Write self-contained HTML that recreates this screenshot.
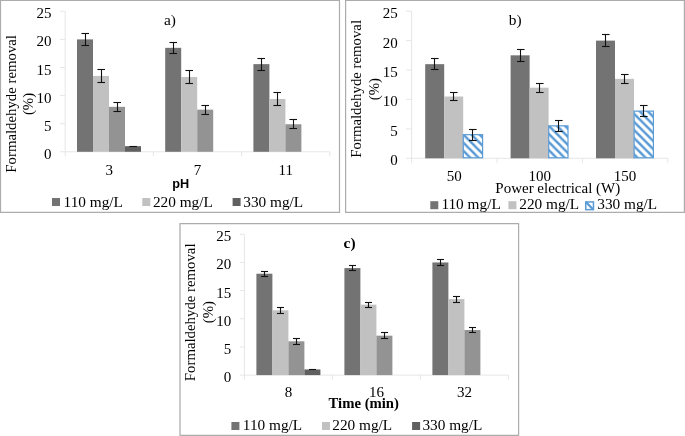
<!DOCTYPE html>
<html><head><meta charset="utf-8"><title>Formaldehyde removal charts</title>
<style>html,body{margin:0;padding:0;background:#fff;}body{width:685px;height:436px;overflow:hidden;font-family:"Liberation Serif",serif;}svg{display:block;will-change:transform;}</style>
</head><body>
<svg width="685" height="436" viewBox="0 0 685 436">
<rect width="685" height="436" fill="#fff"/>
<line x1="0.50" y1="0.50" x2="339.50" y2="0.50" stroke="#acacac" stroke-width="1.2"/>
<line x1="0.50" y1="212.40" x2="339.50" y2="212.40" stroke="#acacac" stroke-width="1.2"/>
<line x1="339.50" y1="-0.10" x2="339.50" y2="213.00" stroke="#acacac" stroke-width="1.2"/>
<line x1="0.50" y1="-0.10" x2="0.50" y2="213.00" stroke="#acacac" stroke-width="1.2"/>
<line x1="65.20" y1="11.30" x2="65.20" y2="156.30" stroke="#e6e6e6" stroke-width="1"/>
<line x1="60.20" y1="151.80" x2="65.20" y2="151.80" stroke="#e6e6e6" stroke-width="1"/>
<text x="51.60" y="158.80" text-anchor="end" font-family="Liberation Serif" font-size="15" font-weight="normal" >0</text>
<line x1="60.20" y1="123.70" x2="65.20" y2="123.70" stroke="#e6e6e6" stroke-width="1"/>
<text x="51.60" y="130.70" text-anchor="end" font-family="Liberation Serif" font-size="15" font-weight="normal" >5</text>
<line x1="60.20" y1="95.60" x2="65.20" y2="95.60" stroke="#e6e6e6" stroke-width="1"/>
<text x="51.60" y="102.60" text-anchor="end" font-family="Liberation Serif" font-size="15" font-weight="normal" >10</text>
<line x1="60.20" y1="67.50" x2="65.20" y2="67.50" stroke="#e6e6e6" stroke-width="1"/>
<text x="51.60" y="74.50" text-anchor="end" font-family="Liberation Serif" font-size="15" font-weight="normal" >15</text>
<line x1="60.20" y1="39.40" x2="65.20" y2="39.40" stroke="#e6e6e6" stroke-width="1"/>
<text x="51.60" y="46.40" text-anchor="end" font-family="Liberation Serif" font-size="15" font-weight="normal" >20</text>
<line x1="60.20" y1="11.30" x2="65.20" y2="11.30" stroke="#e6e6e6" stroke-width="1"/>
<text x="51.60" y="18.30" text-anchor="end" font-family="Liberation Serif" font-size="15" font-weight="normal" >25</text>
<line x1="65.20" y1="151.80" x2="329.80" y2="151.80" stroke="#e6e6e6" stroke-width="1"/>
<line x1="153.40" y1="151.80" x2="153.40" y2="156.30" stroke="#e6e6e6" stroke-width="1"/>
<line x1="241.60" y1="151.80" x2="241.60" y2="156.30" stroke="#e6e6e6" stroke-width="1"/>
<line x1="329.80" y1="151.80" x2="329.80" y2="156.30" stroke="#e6e6e6" stroke-width="1"/>
<rect x="77.00" y="39.40" width="16.00" height="112.40" fill="#737373"/>
<line x1="85.50" y1="33.50" x2="85.50" y2="45.50" stroke="#111" stroke-width="1.1"/>
<line x1="81.40" y1="33.50" x2="89.00" y2="33.50" stroke="#111" stroke-width="1.1"/>
<line x1="81.40" y1="45.50" x2="89.00" y2="45.50" stroke="#111" stroke-width="1.1"/>
<rect x="93.00" y="75.93" width="16.00" height="75.87" fill="#c1c1c1"/>
<line x1="101.50" y1="69.50" x2="101.50" y2="82.50" stroke="#111" stroke-width="1.1"/>
<line x1="97.40" y1="69.50" x2="105.00" y2="69.50" stroke="#111" stroke-width="1.1"/>
<line x1="97.40" y1="82.50" x2="105.00" y2="82.50" stroke="#111" stroke-width="1.1"/>
<rect x="109.00" y="106.84" width="16.00" height="44.96" fill="#939393"/>
<line x1="117.50" y1="102.50" x2="117.50" y2="111.50" stroke="#111" stroke-width="1.1"/>
<line x1="113.40" y1="102.50" x2="121.00" y2="102.50" stroke="#111" stroke-width="1.1"/>
<line x1="113.40" y1="111.50" x2="121.00" y2="111.50" stroke="#111" stroke-width="1.1"/>
<rect x="125.00" y="146.18" width="16.00" height="5.62" fill="#606060"/>
<line x1="129.30" y1="146.50" x2="136.90" y2="146.50" stroke="#111" stroke-width="1.1"/>
<rect x="165.20" y="47.83" width="16.00" height="103.97" fill="#737373"/>
<line x1="173.50" y1="42.50" x2="173.50" y2="53.50" stroke="#111" stroke-width="1.1"/>
<line x1="169.40" y1="42.50" x2="177.00" y2="42.50" stroke="#111" stroke-width="1.1"/>
<line x1="169.40" y1="53.50" x2="177.00" y2="53.50" stroke="#111" stroke-width="1.1"/>
<rect x="181.20" y="77.05" width="16.00" height="74.75" fill="#c1c1c1"/>
<line x1="189.50" y1="70.50" x2="189.50" y2="83.50" stroke="#111" stroke-width="1.1"/>
<line x1="185.40" y1="70.50" x2="193.00" y2="70.50" stroke="#111" stroke-width="1.1"/>
<line x1="185.40" y1="83.50" x2="193.00" y2="83.50" stroke="#111" stroke-width="1.1"/>
<rect x="197.20" y="109.65" width="16.00" height="42.15" fill="#939393"/>
<line x1="205.50" y1="105.50" x2="205.50" y2="114.50" stroke="#111" stroke-width="1.1"/>
<line x1="201.40" y1="105.50" x2="209.00" y2="105.50" stroke="#111" stroke-width="1.1"/>
<line x1="201.40" y1="114.50" x2="209.00" y2="114.50" stroke="#111" stroke-width="1.1"/>
<rect x="253.40" y="64.13" width="16.00" height="87.67" fill="#737373"/>
<line x1="261.50" y1="58.50" x2="261.50" y2="70.50" stroke="#111" stroke-width="1.1"/>
<line x1="257.40" y1="58.50" x2="265.00" y2="58.50" stroke="#111" stroke-width="1.1"/>
<line x1="257.40" y1="70.50" x2="265.00" y2="70.50" stroke="#111" stroke-width="1.1"/>
<rect x="269.40" y="98.97" width="16.00" height="52.83" fill="#c1c1c1"/>
<line x1="277.50" y1="92.50" x2="277.50" y2="105.50" stroke="#111" stroke-width="1.1"/>
<line x1="273.40" y1="92.50" x2="281.00" y2="92.50" stroke="#111" stroke-width="1.1"/>
<line x1="273.40" y1="105.50" x2="281.00" y2="105.50" stroke="#111" stroke-width="1.1"/>
<rect x="285.40" y="124.26" width="16.00" height="27.54" fill="#939393"/>
<line x1="293.50" y1="119.50" x2="293.50" y2="128.50" stroke="#111" stroke-width="1.1"/>
<line x1="289.40" y1="119.50" x2="297.00" y2="119.50" stroke="#111" stroke-width="1.1"/>
<line x1="289.40" y1="128.50" x2="297.00" y2="128.50" stroke="#111" stroke-width="1.1"/>
<text x="109.30" y="174.60" text-anchor="middle" font-family="Liberation Serif" font-size="15" font-weight="normal" >3</text>
<text x="197.50" y="174.60" text-anchor="middle" font-family="Liberation Serif" font-size="15" font-weight="normal" >7</text>
<text x="285.70" y="174.60" text-anchor="middle" font-family="Liberation Serif" font-size="15" font-weight="normal" >11</text>
<text x="180.75" y="188.20" text-anchor="middle" font-family="Liberation Sans" font-size="12.7" font-weight="bold" >pH</text>
<text x="163.90" y="25.10" text-anchor="start" font-family="Liberation Serif" font-size="15.4" font-weight="normal" >a)</text>
<rect x="52.00" y="198.00" width="8.00" height="8.00" fill="#737373"/>
<text x="63.60" y="206.60" text-anchor="start" font-family="Liberation Serif" font-size="15.3" font-weight="normal" >110 mg/L</text>
<rect x="142.30" y="198.00" width="8.00" height="8.00" fill="#c1c1c1"/>
<text x="152.90" y="206.60" text-anchor="start" font-family="Liberation Serif" font-size="15.3" font-weight="normal" >220 mg/L</text>
<rect x="232.60" y="198.00" width="8.00" height="8.00" fill="#606060"/>
<text x="243.30" y="206.60" text-anchor="start" font-family="Liberation Serif" font-size="15.3" font-weight="normal" >330 mg/L</text>
<text transform="translate(15.80,103.85) rotate(-90)" text-anchor="middle" font-family="Liberation Serif" font-size="14.8">Formaldehyde removal</text>
<text transform="translate(33.30,104.00) rotate(-90)" text-anchor="middle" font-family="Liberation Serif" font-size="14.8">(%)</text>
<line x1="345.60" y1="0.50" x2="684.40" y2="0.50" stroke="#acacac" stroke-width="1.2"/>
<line x1="345.60" y1="212.30" x2="684.40" y2="212.30" stroke="#acacac" stroke-width="1.2"/>
<line x1="684.40" y1="-0.10" x2="684.40" y2="212.90" stroke="#acacac" stroke-width="1.2"/>
<line x1="345.60" y1="-0.10" x2="345.60" y2="212.90" stroke="#acacac" stroke-width="1.2"/>
<line x1="411.60" y1="11.20" x2="411.60" y2="162.80" stroke="#e6e6e6" stroke-width="1"/>
<line x1="406.10" y1="158.30" x2="411.60" y2="158.30" stroke="#e6e6e6" stroke-width="1"/>
<text x="397.80" y="165.20" text-anchor="end" font-family="Liberation Serif" font-size="15" font-weight="normal" >0</text>
<line x1="406.10" y1="128.88" x2="411.60" y2="128.88" stroke="#e6e6e6" stroke-width="1"/>
<text x="397.80" y="135.78" text-anchor="end" font-family="Liberation Serif" font-size="15" font-weight="normal" >5</text>
<line x1="406.10" y1="99.46" x2="411.60" y2="99.46" stroke="#e6e6e6" stroke-width="1"/>
<text x="397.80" y="106.36" text-anchor="end" font-family="Liberation Serif" font-size="15" font-weight="normal" >10</text>
<line x1="406.10" y1="70.04" x2="411.60" y2="70.04" stroke="#e6e6e6" stroke-width="1"/>
<text x="397.80" y="76.94" text-anchor="end" font-family="Liberation Serif" font-size="15" font-weight="normal" >15</text>
<line x1="406.10" y1="40.62" x2="411.60" y2="40.62" stroke="#e6e6e6" stroke-width="1"/>
<text x="397.80" y="47.52" text-anchor="end" font-family="Liberation Serif" font-size="15" font-weight="normal" >20</text>
<line x1="406.10" y1="11.20" x2="411.60" y2="11.20" stroke="#e6e6e6" stroke-width="1"/>
<text x="397.80" y="18.10" text-anchor="end" font-family="Liberation Serif" font-size="15" font-weight="normal" >25</text>
<line x1="411.60" y1="158.30" x2="667.80" y2="158.30" stroke="#e6e6e6" stroke-width="1"/>
<line x1="497.00" y1="158.30" x2="497.00" y2="162.80" stroke="#e6e6e6" stroke-width="1"/>
<line x1="582.40" y1="158.30" x2="582.40" y2="162.80" stroke="#e6e6e6" stroke-width="1"/>
<line x1="667.80" y1="158.30" x2="667.80" y2="162.80" stroke="#e6e6e6" stroke-width="1"/>
<rect x="425.20" y="64.16" width="19.00" height="94.14" fill="#737373"/>
<line x1="434.50" y1="58.50" x2="434.50" y2="69.50" stroke="#111" stroke-width="1.1"/>
<line x1="431.00" y1="58.50" x2="438.60" y2="58.50" stroke="#111" stroke-width="1.1"/>
<line x1="431.00" y1="69.50" x2="438.60" y2="69.50" stroke="#111" stroke-width="1.1"/>
<rect x="444.20" y="96.52" width="19.00" height="61.78" fill="#c1c1c1"/>
<line x1="453.50" y1="92.50" x2="453.50" y2="100.50" stroke="#111" stroke-width="1.1"/>
<line x1="450.00" y1="92.50" x2="457.60" y2="92.50" stroke="#111" stroke-width="1.1"/>
<line x1="450.00" y1="100.50" x2="457.60" y2="100.50" stroke="#111" stroke-width="1.1"/>
<defs><pattern id="h0" patternUnits="userSpaceOnUse" x="328.80" y="0.00" width="8.1" height="8.1"><path d="M-2,-2 L10.1,10.1 M-2,6.1 L2,10.1 M6.1,-2 L10.1,2" stroke="#5b9bd5" stroke-width="2.4" fill="none"/></pattern></defs>
<rect x="463.30" y="134.66" width="19.30" height="23.14" fill="url(#h0)" stroke="#5b9bd5" stroke-width="1.2"/>
<line x1="472.50" y1="129.50" x2="472.50" y2="140.50" stroke="#111" stroke-width="1.1"/>
<line x1="469.00" y1="129.50" x2="476.60" y2="129.50" stroke="#111" stroke-width="1.1"/>
<line x1="469.00" y1="140.50" x2="476.60" y2="140.50" stroke="#111" stroke-width="1.1"/>
<rect x="510.60" y="55.33" width="19.00" height="102.97" fill="#737373"/>
<line x1="520.50" y1="49.50" x2="520.50" y2="61.50" stroke="#111" stroke-width="1.1"/>
<line x1="517.00" y1="49.50" x2="524.60" y2="49.50" stroke="#111" stroke-width="1.1"/>
<line x1="517.00" y1="61.50" x2="524.60" y2="61.50" stroke="#111" stroke-width="1.1"/>
<rect x="529.60" y="87.69" width="19.00" height="70.61" fill="#c1c1c1"/>
<line x1="539.50" y1="83.50" x2="539.50" y2="92.50" stroke="#111" stroke-width="1.1"/>
<line x1="536.00" y1="83.50" x2="543.60" y2="83.50" stroke="#111" stroke-width="1.1"/>
<line x1="536.00" y1="92.50" x2="543.60" y2="92.50" stroke="#111" stroke-width="1.1"/>
<defs><pattern id="h1" patternUnits="userSpaceOnUse" x="423.00" y="0.00" width="8.1" height="8.1"><path d="M-2,-2 L10.1,10.1 M-2,6.1 L2,10.1 M6.1,-2 L10.1,2" stroke="#5b9bd5" stroke-width="2.4" fill="none"/></pattern></defs>
<rect x="548.70" y="125.84" width="19.30" height="31.96" fill="url(#h1)" stroke="#5b9bd5" stroke-width="1.2"/>
<line x1="558.50" y1="120.50" x2="558.50" y2="131.50" stroke="#111" stroke-width="1.1"/>
<line x1="555.00" y1="120.50" x2="562.60" y2="120.50" stroke="#111" stroke-width="1.1"/>
<line x1="555.00" y1="131.50" x2="562.60" y2="131.50" stroke="#111" stroke-width="1.1"/>
<rect x="596.00" y="40.62" width="19.00" height="117.68" fill="#737373"/>
<line x1="605.50" y1="34.50" x2="605.50" y2="46.50" stroke="#111" stroke-width="1.1"/>
<line x1="602.00" y1="34.50" x2="609.60" y2="34.50" stroke="#111" stroke-width="1.1"/>
<line x1="602.00" y1="46.50" x2="609.60" y2="46.50" stroke="#111" stroke-width="1.1"/>
<rect x="615.00" y="78.87" width="19.00" height="79.43" fill="#c1c1c1"/>
<line x1="624.50" y1="74.50" x2="624.50" y2="83.50" stroke="#111" stroke-width="1.1"/>
<line x1="621.00" y1="74.50" x2="628.60" y2="74.50" stroke="#111" stroke-width="1.1"/>
<line x1="621.00" y1="83.50" x2="628.60" y2="83.50" stroke="#111" stroke-width="1.1"/>
<defs><pattern id="h2" patternUnits="userSpaceOnUse" x="520.30" y="0.00" width="8.1" height="8.1"><path d="M-2,-2 L10.1,10.1 M-2,6.1 L2,10.1 M6.1,-2 L10.1,2" stroke="#5b9bd5" stroke-width="2.4" fill="none"/></pattern></defs>
<rect x="634.10" y="111.13" width="19.30" height="46.67" fill="url(#h2)" stroke="#5b9bd5" stroke-width="1.2"/>
<line x1="643.50" y1="105.50" x2="643.50" y2="116.50" stroke="#111" stroke-width="1.1"/>
<line x1="640.00" y1="105.50" x2="647.60" y2="105.50" stroke="#111" stroke-width="1.1"/>
<line x1="640.00" y1="116.50" x2="647.60" y2="116.50" stroke="#111" stroke-width="1.1"/>
<text x="454.30" y="180.60" text-anchor="middle" font-family="Liberation Serif" font-size="15" font-weight="normal" >50</text>
<text x="539.70" y="180.60" text-anchor="middle" font-family="Liberation Serif" font-size="15" font-weight="normal" >100</text>
<text x="625.10" y="180.60" text-anchor="middle" font-family="Liberation Serif" font-size="15" font-weight="normal" >150</text>
<text x="495.30" y="192.70" text-anchor="start" font-family="Liberation Serif" font-size="15" font-weight="normal" >Power electrical (W)</text>
<text x="508.80" y="25.30" text-anchor="start" font-family="Liberation Serif" font-size="15.4" font-weight="normal" >b)</text>
<rect x="430.30" y="201.20" width="8.00" height="8.00" fill="#737373"/>
<text x="441.40" y="209.00" text-anchor="start" font-family="Liberation Serif" font-size="15.3" font-weight="normal" >110 mg/L</text>
<rect x="508.40" y="201.20" width="8.00" height="8.00" fill="#c1c1c1"/>
<text x="519.30" y="209.00" text-anchor="start" font-family="Liberation Serif" font-size="15.3" font-weight="normal" >220 mg/L</text>
<rect x="585.75" y="201.95" width="7.7" height="7.7" fill="#fff" stroke="none"/>
<line x1="585.90" y1="202.10" x2="593.30" y2="209.50" stroke="#5b9bd5" stroke-width="2.2"/>
<rect x="585.75" y="201.95" width="7.7" height="7.7" fill="none" stroke="#5b9bd5" stroke-width="1.5"/>
<text x="597.30" y="209.00" text-anchor="start" font-family="Liberation Serif" font-size="15.3" font-weight="normal" >330 mg/L</text>
<text transform="translate(361.20,88.80) rotate(-90)" text-anchor="middle" font-family="Liberation Serif" font-size="14.8">Formaldehyde removal</text>
<text transform="translate(378.80,89.20) rotate(-90)" text-anchor="middle" font-family="Liberation Serif" font-size="14.8">(%)</text>
<line x1="180.00" y1="223.70" x2="518.60" y2="223.70" stroke="#acacac" stroke-width="1.2"/>
<line x1="180.00" y1="435.40" x2="518.60" y2="435.40" stroke="#acacac" stroke-width="1.2"/>
<line x1="518.60" y1="223.10" x2="518.60" y2="436.00" stroke="#acacac" stroke-width="1.2"/>
<line x1="180.00" y1="223.10" x2="180.00" y2="436.00" stroke="#b8b8b8" stroke-width="1.5"/>
<line x1="244.40" y1="234.30" x2="244.40" y2="379.60" stroke="#e6e6e6" stroke-width="1"/>
<line x1="239.90" y1="375.10" x2="244.40" y2="375.10" stroke="#e6e6e6" stroke-width="1"/>
<text x="231.20" y="382.00" text-anchor="end" font-family="Liberation Serif" font-size="15" font-weight="normal" >0</text>
<line x1="239.90" y1="346.94" x2="244.40" y2="346.94" stroke="#e6e6e6" stroke-width="1"/>
<text x="231.20" y="353.84" text-anchor="end" font-family="Liberation Serif" font-size="15" font-weight="normal" >5</text>
<line x1="239.90" y1="318.78" x2="244.40" y2="318.78" stroke="#e6e6e6" stroke-width="1"/>
<text x="231.20" y="325.68" text-anchor="end" font-family="Liberation Serif" font-size="15" font-weight="normal" >10</text>
<line x1="239.90" y1="290.62" x2="244.40" y2="290.62" stroke="#e6e6e6" stroke-width="1"/>
<text x="231.20" y="297.52" text-anchor="end" font-family="Liberation Serif" font-size="15" font-weight="normal" >15</text>
<line x1="239.90" y1="262.46" x2="244.40" y2="262.46" stroke="#e6e6e6" stroke-width="1"/>
<text x="231.20" y="269.36" text-anchor="end" font-family="Liberation Serif" font-size="15" font-weight="normal" >20</text>
<line x1="239.90" y1="234.30" x2="244.40" y2="234.30" stroke="#e6e6e6" stroke-width="1"/>
<text x="231.20" y="241.20" text-anchor="end" font-family="Liberation Serif" font-size="15" font-weight="normal" >25</text>
<line x1="244.40" y1="375.10" x2="508.40" y2="375.10" stroke="#e6e6e6" stroke-width="1"/>
<line x1="332.40" y1="375.10" x2="332.40" y2="379.60" stroke="#e6e6e6" stroke-width="1"/>
<line x1="420.40" y1="375.10" x2="420.40" y2="379.60" stroke="#e6e6e6" stroke-width="1"/>
<line x1="508.40" y1="375.10" x2="508.40" y2="379.60" stroke="#e6e6e6" stroke-width="1"/>
<rect x="256.40" y="273.72" width="16.00" height="101.38" fill="#737373"/>
<line x1="264.50" y1="271.50" x2="264.50" y2="276.50" stroke="#111" stroke-width="1.1"/>
<line x1="261.00" y1="271.50" x2="268.00" y2="271.50" stroke="#111" stroke-width="1.1"/>
<line x1="261.00" y1="276.50" x2="268.00" y2="276.50" stroke="#111" stroke-width="1.1"/>
<rect x="272.40" y="310.33" width="16.00" height="64.77" fill="#c1c1c1"/>
<line x1="280.50" y1="307.50" x2="280.50" y2="313.50" stroke="#111" stroke-width="1.1"/>
<line x1="277.00" y1="307.50" x2="284.00" y2="307.50" stroke="#111" stroke-width="1.1"/>
<line x1="277.00" y1="313.50" x2="284.00" y2="313.50" stroke="#111" stroke-width="1.1"/>
<rect x="288.40" y="341.31" width="16.00" height="33.79" fill="#939393"/>
<line x1="296.50" y1="338.50" x2="296.50" y2="344.50" stroke="#111" stroke-width="1.1"/>
<line x1="293.00" y1="338.50" x2="300.00" y2="338.50" stroke="#111" stroke-width="1.1"/>
<line x1="293.00" y1="344.50" x2="300.00" y2="344.50" stroke="#111" stroke-width="1.1"/>
<rect x="304.40" y="369.47" width="16.00" height="5.63" fill="#606060"/>
<line x1="309.00" y1="369.50" x2="316.00" y2="369.50" stroke="#111" stroke-width="1.1"/>
<rect x="344.40" y="268.09" width="16.00" height="107.01" fill="#737373"/>
<line x1="352.50" y1="265.50" x2="352.50" y2="270.50" stroke="#111" stroke-width="1.1"/>
<line x1="349.00" y1="265.50" x2="356.00" y2="265.50" stroke="#111" stroke-width="1.1"/>
<line x1="349.00" y1="270.50" x2="356.00" y2="270.50" stroke="#111" stroke-width="1.1"/>
<rect x="360.40" y="304.70" width="16.00" height="70.40" fill="#c1c1c1"/>
<line x1="368.50" y1="302.50" x2="368.50" y2="307.50" stroke="#111" stroke-width="1.1"/>
<line x1="365.00" y1="302.50" x2="372.00" y2="302.50" stroke="#111" stroke-width="1.1"/>
<line x1="365.00" y1="307.50" x2="372.00" y2="307.50" stroke="#111" stroke-width="1.1"/>
<rect x="376.40" y="335.68" width="16.00" height="39.42" fill="#939393"/>
<line x1="384.50" y1="332.50" x2="384.50" y2="338.50" stroke="#111" stroke-width="1.1"/>
<line x1="381.00" y1="332.50" x2="388.00" y2="332.50" stroke="#111" stroke-width="1.1"/>
<line x1="381.00" y1="338.50" x2="388.00" y2="338.50" stroke="#111" stroke-width="1.1"/>
<rect x="432.40" y="262.46" width="16.00" height="112.64" fill="#737373"/>
<line x1="440.50" y1="259.50" x2="440.50" y2="265.50" stroke="#111" stroke-width="1.1"/>
<line x1="437.00" y1="259.50" x2="444.00" y2="259.50" stroke="#111" stroke-width="1.1"/>
<line x1="437.00" y1="265.50" x2="444.00" y2="265.50" stroke="#111" stroke-width="1.1"/>
<rect x="448.40" y="299.07" width="16.00" height="76.03" fill="#c1c1c1"/>
<line x1="456.50" y1="296.50" x2="456.50" y2="302.50" stroke="#111" stroke-width="1.1"/>
<line x1="453.00" y1="296.50" x2="460.00" y2="296.50" stroke="#111" stroke-width="1.1"/>
<line x1="453.00" y1="302.50" x2="460.00" y2="302.50" stroke="#111" stroke-width="1.1"/>
<rect x="464.40" y="330.04" width="16.00" height="45.06" fill="#939393"/>
<line x1="472.50" y1="327.50" x2="472.50" y2="332.50" stroke="#111" stroke-width="1.1"/>
<line x1="469.00" y1="327.50" x2="476.00" y2="327.50" stroke="#111" stroke-width="1.1"/>
<line x1="469.00" y1="332.50" x2="476.00" y2="332.50" stroke="#111" stroke-width="1.1"/>
<text x="288.40" y="397.20" text-anchor="middle" font-family="Liberation Serif" font-size="15" font-weight="normal" >8</text>
<text x="376.40" y="397.20" text-anchor="middle" font-family="Liberation Serif" font-size="15" font-weight="normal" >16</text>
<text x="464.40" y="397.20" text-anchor="middle" font-family="Liberation Serif" font-size="15" font-weight="normal" >32</text>
<text x="328.60" y="408.00" text-anchor="start" font-family="Liberation Serif" font-size="14.7" font-weight="bold" >Time (min)</text>
<text x="343.60" y="248.35" text-anchor="start" font-family="Liberation Serif" font-size="15.4" font-weight="bold" >c)</text>
<rect x="231.40" y="422.00" width="8.00" height="8.00" fill="#737373"/>
<text x="242.80" y="429.70" text-anchor="start" font-family="Liberation Serif" font-size="15.3" font-weight="normal" >110 mg/L</text>
<rect x="322.00" y="422.00" width="8.00" height="8.00" fill="#c1c1c1"/>
<text x="332.30" y="429.70" text-anchor="start" font-family="Liberation Serif" font-size="15.3" font-weight="normal" >220 mg/L</text>
<rect x="412.10" y="422.00" width="8.00" height="8.00" fill="#606060"/>
<text x="422.40" y="429.70" text-anchor="start" font-family="Liberation Serif" font-size="15.3" font-weight="normal" >330 mg/L</text>
<text transform="translate(195.20,312.30) rotate(-90)" text-anchor="middle" font-family="Liberation Serif" font-size="14.8">Formaldehyde removal</text>
<text transform="translate(212.80,312.20) rotate(-90)" text-anchor="middle" font-family="Liberation Serif" font-size="14.8">(%)</text>
</svg>
</body></html>
